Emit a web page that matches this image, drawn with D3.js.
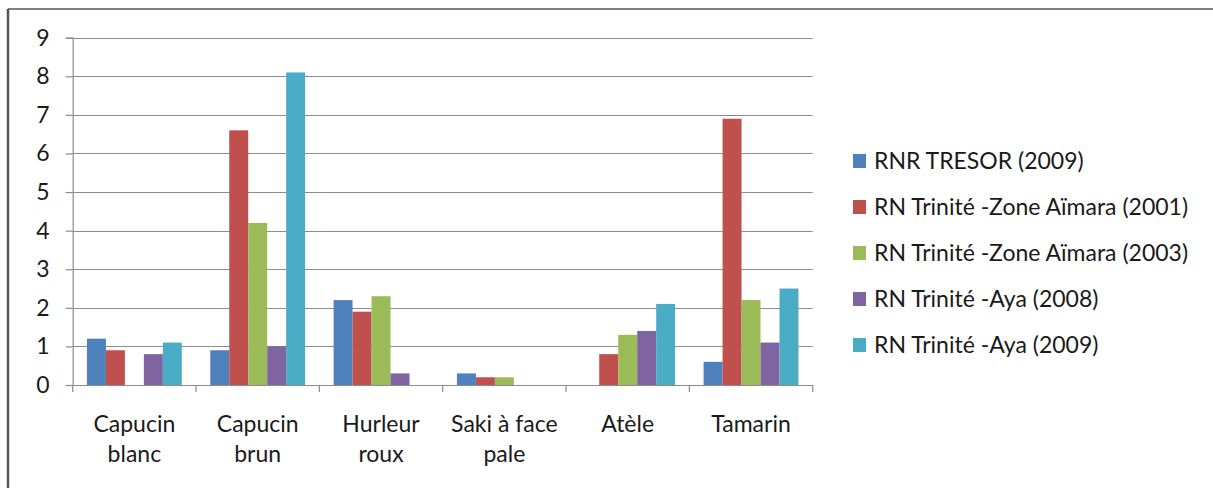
<!DOCTYPE html>
<html>
<head>
<meta charset="utf-8">
<script src="https://cdnjs.cloudflare.com/ajax/libs/d3/7.8.5/d3.min.js"></script>
<style>
  body { margin: 0; background: #fff; }
  text { font-family: Lato, "Open Sans", sans-serif; fill: #1a1a1a; }
</style>
</head>
<body>
<svg width="1213" height="488"></svg>
<script>
var categories = ["Capucin blanc", "Capucin brun", "Hurleur roux", "Saki à face pale", "Atèle", "Tamarin"];
var categoryLines = [["Capucin", "blanc"], ["Capucin", "brun"], ["Hurleur", "roux"], ["Saki à face", "pale"], ["Atèle"], ["Tamarin"]];
var seriesNames = [
  "RNR TRESOR (2009)",
  "RN Trinité -Zone Aïmara (2001)",
  "RN Trinité -Zone Aïmara (2003)",
  "RN Trinité -Aya (2008)",
  "RN Trinité -Aya (2009)"
];
var tresor2009 = [1.2, 0.9, 2.2, 0.3, 0, 0.6];
var aimara2001 = [0.9, 6.6, 1.9, 0.2, 0.8, 6.9];
var aimara2003 = [0, 4.2, 2.3, 0.2, 1.3, 2.2];
var aya2008 = [0.8, 1.0, 0.3, 0, 1.4, 1.1];
var aya2009 = [1.1, 8.1, 0, 0, 2.1, 2.5];
var yTicks = [0, 1, 2, 3, 4, 5, 6, 7, 8, 9];
var colors = ["#4f81bd", "#c0504d", "#9bbb59", "#8064a2", "#4bacc6"];

var series = [tresor2009, aimara2001, aimara2003, aya2008, aya2009];

var svg = d3.select("svg");

// chart frame
svg.append("line").attr("x1", 8).attr("y1", 9).attr("x2", 1213).attr("y2", 9)
  .attr("stroke", "#7f7f7f").attr("stroke-width", 2);
svg.append("line").attr("x1", 8).attr("y1", 9).attr("x2", 8).attr("y2", 488)
  .attr("stroke", "#555").attr("stroke-width", 2.5);

var plotLeft = 72.7, plotRight = 812.7, plotTop = 37.7, plotBottom = 385;

var x0 = d3.scaleBand().domain(categories).range([plotLeft, plotRight]).paddingInner(0).paddingOuter(0);
// gap width 150% -> 0.75 bar on each side of the group
var x1 = d3.scaleBand().domain(d3.range(series.length))
  .range([0, x0.bandwidth()]).paddingInner(0).paddingOuter(0.75);
var y = d3.scaleLinear().domain([0, 9]).range([plotBottom, plotTop]);

// gridlines
svg.append("g").selectAll("line").data(yTicks.slice(1)).enter().append("line")
  .attr("x1", plotLeft).attr("x2", plotRight)
  .attr("y1", function(d) { return Math.round(y(d)) + 0.5; })
  .attr("y2", function(d) { return Math.round(y(d)) + 0.5; })
  .attr("stroke", "#8c8c8c").attr("stroke-width", 1.2);

// bars
var groups = svg.append("g").selectAll("g").data(categories).enter().append("g")
  .attr("transform", function(d) { return "translate(" + x0(d) + ",0)"; });
groups.selectAll("rect")
  .data(function(d, i) { return series.map(function(s, k) { return { k: k, v: s[i] }; }); })
  .enter().append("rect")
  .attr("x", function(d) { return x1(d.k); })
  .attr("width", x1.bandwidth())
  .attr("y", function(d) { return y(d.v); })
  .attr("height", function(d) { return plotBottom - y(d.v); })
  .attr("fill", function(d) { return colors[d.k]; });

// y axis
var yAxis = svg.append("g").attr("transform", "translate(" + plotLeft + ",0)")
  .call(d3.axisLeft(y).tickValues(yTicks).tickSize(7).tickPadding(16).tickFormat(d3.format("d")));
yAxis.select(".domain").attr("stroke", "#8c8c8c").attr("stroke-width", 1.2);
yAxis.selectAll(".tick line").attr("stroke", "#8c8c8c").attr("stroke-width", 1.2);
yAxis.selectAll("text").style("font-size", "23px").style("font-family", "Lato").attr("fill", "#1a1a1a");

// x axis
var xAxis = svg.append("g").attr("transform", "translate(0," + plotBottom + ")")
  .call(d3.axisBottom(x0).tickSize(0).tickFormat(""));
xAxis.select(".domain").attr("stroke", "#8c8c8c").attr("stroke-width", 1.2);
svg.append("g").selectAll("line").data(categories.concat([null])).enter().append("line")
  .attr("x1", function(d, i) { return plotLeft + i * x0.step(); })
  .attr("x2", function(d, i) { return plotLeft + i * x0.step(); })
  .attr("y1", plotBottom).attr("y2", plotBottom + 7)
  .attr("stroke", "#8c8c8c").attr("stroke-width", 1.2);

svg.append("g").selectAll("text").data(categories).enter().append("text")
  .attr("x", function(d) { return x0(d) + x0.bandwidth() / 2; })
  .attr("y", 432)
  .attr("text-anchor", "middle")
  .style("font-size", "23px")
  .each(function(d, i) {
    var t = d3.select(this);
    categoryLines[i].forEach(function(line, j) {
      t.append("tspan").attr("x", x0(d) + x0.bandwidth() / 2).attr("dy", j === 0 ? 0 : 30).text(line);
    });
  });

// legend
var legend = svg.append("g").selectAll("g").data(seriesNames).enter().append("g")
  .attr("transform", function(d, i) { return "translate(853," + (161 + i * 46) + ")"; });
legend.append("rect").attr("x", 0).attr("y", -7).attr("width", 13).attr("height", 14)
  .attr("fill", function(d, i) { return colors[i]; });
legend.append("text").attr("x", 21).attr("y", 8).style("font-size", "23px").text(function(d) { return d; });
</script>
</body>
</html>
